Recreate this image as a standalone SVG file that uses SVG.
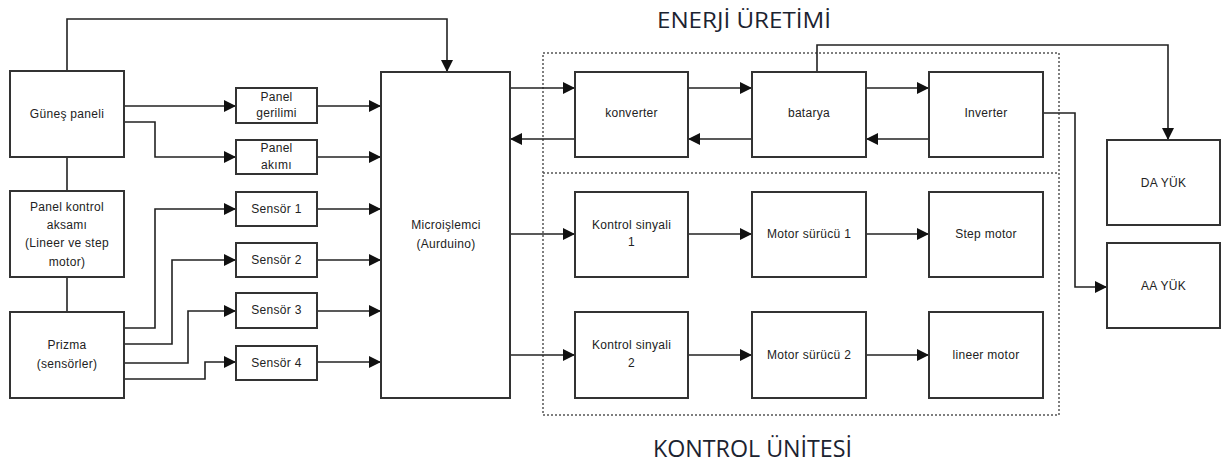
<svg xmlns="http://www.w3.org/2000/svg" width="1222" height="466" viewBox="0 0 1222 466">
<defs>
<marker id="arr" markerUnits="userSpaceOnUse" markerWidth="13" markerHeight="12" refX="12" refY="6" orient="auto">
<path d="M0,0 L12,6 L0,12 z" fill="#111"/>
</marker>
<style>
.box{fill:#fff;stroke:#333;stroke-width:2}
.t{font-family:"Liberation Sans",Arial,sans-serif;font-size:12px;letter-spacing:0.3px;fill:#222;text-anchor:middle}
.title{font-family:"Open Sans","Liberation Sans",sans-serif;font-size:22px;fill:#1c2330;text-anchor:start}
.c{fill:none;stroke:#222;stroke-width:1.6}
.ca{fill:none;stroke:#222;stroke-width:1.6;marker-end:url(#arr)}
.dot{fill:none;stroke:#555;stroke-width:1.5;stroke-dasharray:2 2}
</style>
</defs>
<rect width="1222" height="466" fill="#fff"/>

<g id="groups">
<rect class="dot" x="543" y="53" width="516" height="362"/>
<path class="dot" d="M543,173 H1059"/>
<text class="title" x="657" y="28" textLength="174" lengthAdjust="spacingAndGlyphs">ENERJİ ÜRETİMİ</text>
<text class="title" x="653" y="457" textLength="199" lengthAdjust="spacingAndGlyphs" style="font-size:24px">KONTROL ÜNİTESİ</text>
</g>

<g id="connectors">
<path class="ca" d="M67,71 V19 H447 V72"/>
<path class="ca" d="M124,106 H236"/>
<path class="ca" d="M124,122 H155 V157 H236"/>
<path class="ca" d="M317,106 H381"/>
<path class="ca" d="M317,157 H381"/>
<path class="ca" d="M317,209 H381"/>
<path class="ca" d="M317,260 H381"/>
<path class="ca" d="M317,311 H381"/>
<path class="ca" d="M317,362 H381"/>
<path class="ca" d="M124,328 H155 V209 H236"/>
<path class="ca" d="M124,344 H172 V260 H236"/>
<path class="ca" d="M124,363 H188 V311 H236"/>
<path class="ca" d="M124,379 H205 V362 H236"/>
<path class="c" d="M67,157 V191"/>
<path class="c" d="M67,277 V312"/>
<path class="ca" d="M510,88 H575"/>
<path class="ca" d="M575,139 H510"/>
<path class="ca" d="M688,88 H752"/>
<path class="ca" d="M752,139 H688"/>
<path class="ca" d="M866,88 H929"/>
<path class="ca" d="M929,139 H866"/>
<path class="ca" d="M817,72 V45 H1168 V140"/>
<path class="ca" d="M1043,113 H1075 V287 H1107"/>
<path class="ca" d="M510,234 H575"/>
<path class="ca" d="M510,355 H575"/>
<path class="ca" d="M688,234 H752"/>
<path class="ca" d="M688,355 H752"/>
<path class="ca" d="M866,234 H929"/>
<path class="ca" d="M866,355 H929"/>
</g>

<g id="gunes"><rect class="box" x="10" y="71" width="114" height="86"/><text class="t" x="67" y="118">Güneş paneli</text></g>
<g id="kontrol-aksam"><rect class="box" x="10" y="191" width="114" height="86"/>
<text class="t" x="67" y="211">Panel kontrol</text><text class="t" x="67" y="229">aksamı</text><text class="t" x="67" y="247">(Lineer ve step</text><text class="t" x="67" y="266">motor)</text></g>
<g id="prizma"><rect class="box" x="10" y="312" width="114" height="86"/>
<text class="t" x="67" y="349">Prizma</text><text class="t" x="67" y="368">(sensörler)</text></g>

<g id="panel-gerilimi"><rect class="box" x="236" y="88" width="81" height="35"/>
<text class="t" x="276.5" y="101">Panel</text><text class="t" x="276.5" y="117">gerilimi</text></g>
<g id="panel-akimi"><rect class="box" x="236" y="140" width="81" height="34"/>
<text class="t" x="276.5" y="152">Panel</text><text class="t" x="276.5" y="169">akımı</text></g>
<g id="sensor1"><rect class="box" x="236" y="192" width="81" height="34"/><text class="t" x="276.5" y="213">Sensör 1</text></g>
<g id="sensor2"><rect class="box" x="236" y="243" width="81" height="34"/><text class="t" x="276.5" y="264">Sensör 2</text></g>
<g id="sensor3"><rect class="box" x="236" y="293" width="81" height="35"/><text class="t" x="276.5" y="314">Sensör 3</text></g>
<g id="sensor4"><rect class="box" x="236" y="346" width="81" height="34"/><text class="t" x="276.5" y="367">Sensör 4</text></g>

<g id="micro"><rect class="box" x="381" y="72" width="129" height="326"/>
<text class="t" x="446" y="229">Microişlemci</text><text class="t" x="446" y="248">(Aurduino)</text></g>

<g id="konverter"><rect class="box" x="575" y="72" width="113" height="85"/><text class="t" x="631.5" y="117">konverter</text></g>
<g id="batarya"><rect class="box" x="752" y="72" width="114" height="85"/><text class="t" x="809" y="117">batarya</text></g>
<g id="inverter"><rect class="box" x="929" y="72" width="114" height="85"/><text class="t" x="986" y="117">Inverter</text></g>

<g id="ks1"><rect class="box" x="575" y="192" width="113" height="85"/>
<text class="t" x="631.5" y="229">Kontrol sinyali</text><text class="t" x="631.5" y="246">1</text></g>
<g id="ms1"><rect class="box" x="752" y="192" width="114" height="85"/><text class="t" x="809" y="238">Motor sürücü 1</text></g>
<g id="step"><rect class="box" x="929" y="192" width="114" height="85"/><text class="t" x="986" y="238">Step motor</text></g>

<g id="ks2"><rect class="box" x="575" y="312" width="113" height="86"/>
<text class="t" x="631.5" y="349">Kontrol sinyali</text><text class="t" x="631.5" y="367">2</text></g>
<g id="ms2"><rect class="box" x="752" y="312" width="114" height="86"/><text class="t" x="809" y="359">Motor sürücü 2</text></g>
<g id="lineer"><rect class="box" x="929" y="312" width="114" height="86"/><text class="t" x="986" y="359">lineer motor</text></g>

<g id="da"><rect class="box" x="1107" y="140" width="113" height="85"/><text class="t" x="1163.5" y="187">DA YÜK</text></g>
<g id="aa"><rect class="box" x="1107" y="243" width="113" height="85"/><text class="t" x="1163.5" y="290">AA YÜK</text></g>
</svg>
